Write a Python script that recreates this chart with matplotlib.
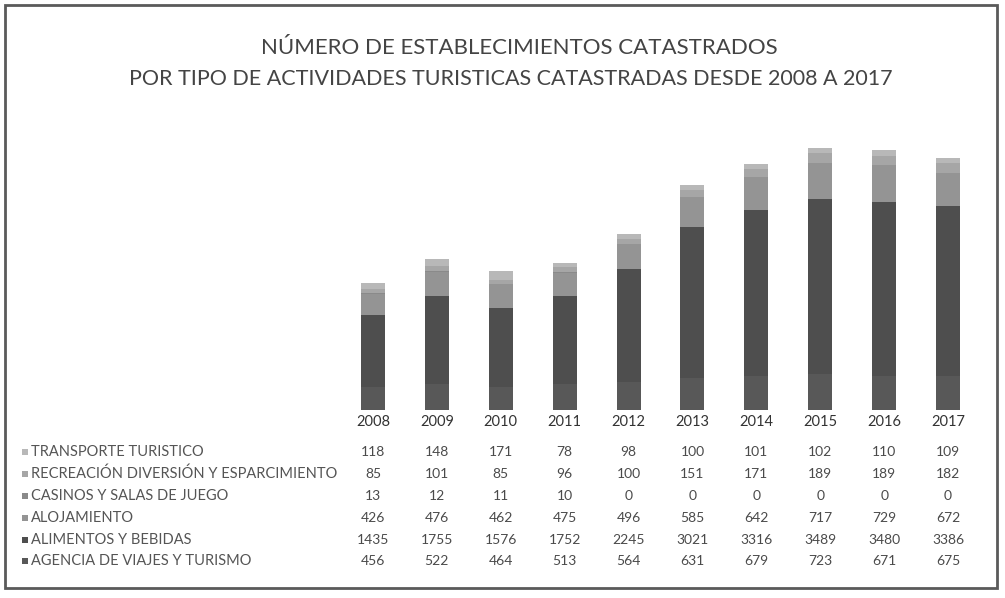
import matplotlib.pyplot as plt
import matplotlib.transforms as mtransforms
from matplotlib.patches import Rectangle

# %% Data
years = ['2008', '2009', '2010', '2011', '2012', '2013', '2014', '2015', '2016', '2017']
transporte = [118, 148, 171, 78, 98, 100, 101, 102, 110, 109]
recreacion = [85, 101, 85, 96, 100, 151, 171, 189, 189, 182]
casinos = [13, 12, 11, 10, 0, 0, 0, 0, 0, 0]
alojamiento = [426, 476, 462, 475, 496, 585, 642, 717, 729, 672]
alimentos = [1435, 1755, 1576, 1752, 2245, 3021, 3316, 3489, 3480, 3386]
agencia = [456, 522, 464, 513, 564, 631, 679, 723, 671, 675]

labels = ['TRANSPORTE TURISTICO', 'RECREACIÓN DIVERSIÓN Y ESPARCIMIENTO',
          'CASINOS Y SALAS DE JUEGO', 'ALOJAMIENTO', 'ALIMENTOS Y BEBIDAS',
          'AGENCIA DE VIAJES Y TURISMO']
rows = [transporte, recreacion, casinos, alojamiento, alimentos, agencia]
colors = ['#b8b8b8', '#a6a6a6', '#8a8a8a', '#949494', '#4e4e4e', '#585858']

plt.rcParams['font.family'] = ['Lato', 'DejaVu Sans']

W, H = 1005, 598
fig = plt.figure(figsize=(W / 100, H / 100), dpi=100)

def fx(px):
    return px / W

def fy(py):
    return 1 - py / H

# %% Bars
ax = fig.add_axes([fx(341), fy(410), fx(980) - fx(341), fy(109) - fy(410)])
x = list(range(len(years)))
bottom = [0] * len(years)
# stacking from the bottom: last table row first
for vals, col in zip(rows[::-1], colors[::-1]):
    ax.bar(x, vals, width=0.375, bottom=bottom, color=col, edgecolor='none')
    bottom = [b + v for b, v in zip(bottom, vals)]
ax.set_xlim(-0.5, 9.5)
ax.set_ylim(0, 6000)
ax.axis('off')

# %% Title
fig.text(0.517, fy(48), 'NÚMERO DE ESTABLECIMIENTOS CATASTRADOS', ha='center', va='center',
         fontsize=16, color='#444444')
fig.text(0.508, fy(79), 'POR TIPO DE ACTIVIDADES TURISTICAS CATASTRADAS DESDE 2008 A 2017',
         ha='center', va='center', fontsize=15.5, color='#444444')

# %% Data table
trans = mtransforms.blended_transform_factory(ax.transData, fig.transFigure)
for i, yr in enumerate(years):
    ax.text(i, fy(422), yr, transform=trans, ha='center', va='center', fontsize=10.5, color='#333333')

row_y = [452, 474, 496, 518, 540, 561]
for lab, vals, col, yp in zip(labels, rows, colors, row_y):
    fig.patches.append(Rectangle((fx(22), fy(yp + 3)), fx(6), 6 / H, transform=fig.transFigure,
                                 facecolor=col, edgecolor='none'))
    fig.text(fx(31), fy(yp), lab, ha='left', va='center', fontsize=10.5, color='#555555')
    for i, v in enumerate(vals):
        ax.text(i, fy(yp), str(v), transform=trans, ha='center', va='center',
                fontsize=10, color='#4a4a4a')

# %% Frame
fig.patches.append(Rectangle((fx(5), fy(588)), fx(992) - fx(0), fy(5) - fy(588),
                             transform=fig.transFigure, fill=False, edgecolor='#5a5a5a', linewidth=2))

fig.savefig('out.png', dpi=100)
